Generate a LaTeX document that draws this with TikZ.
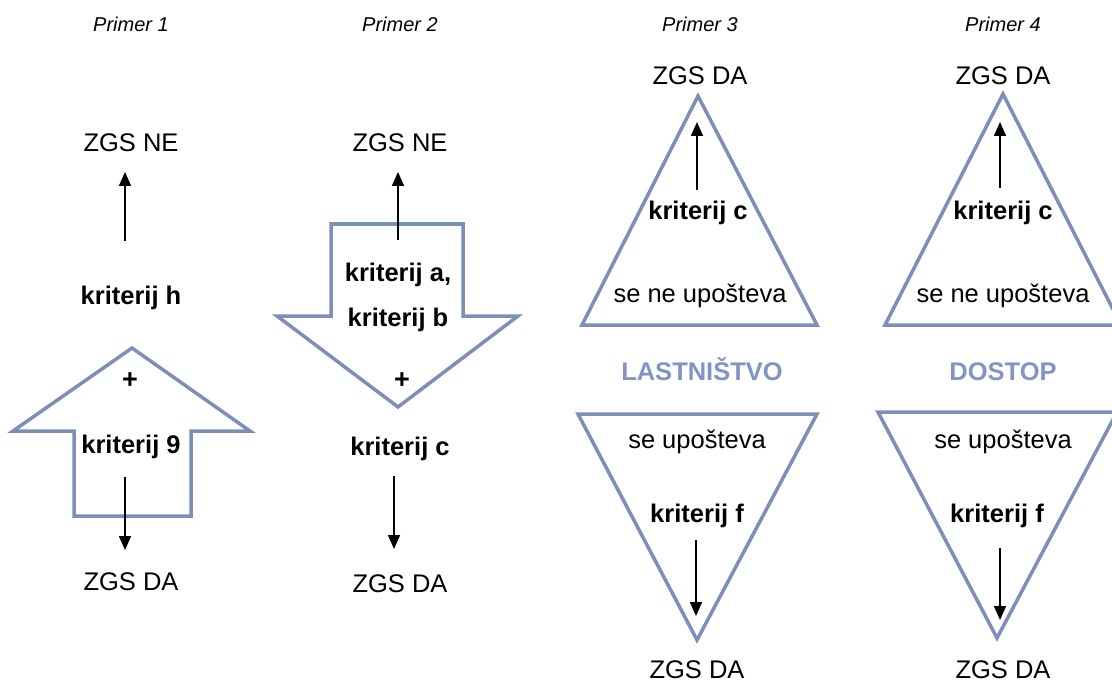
\documentclass[tikz,border=0pt]{standalone}
\usepackage{fontspec}
\setmainfont{Liberation Sans}
\usetikzlibrary{arrows.meta}
\definecolor{outl}{RGB}{125,142,185}
\definecolor{lbl}{RGB}{130,148,196}
\begin{document}
\begin{tikzpicture}[x=1pt,y=-1pt,
 txt/.style={anchor=base,inner sep=0pt,font=\fontsize{25.5}{30}\selectfont},
 btxt/.style={anchor=base,inner sep=0pt,font=\fontsize{25.5}{30}\selectfont\bfseries},
 plus/.style={anchor=base,inner sep=0pt,font=\fontsize{27}{30}\selectfont\bfseries},
 ttl/.style={anchor=base,inner sep=0pt,font=\fontsize{20}{24}\selectfont\itshape},
 hdr/.style={btxt,text=lbl},
 shp/.style={draw=outl,line width=3.5pt,line join=miter},
 arr/.style={line width=1.6pt,-{Triangle[length=14pt,width=12pt]}}]
\useasboundingbox (0,0) rectangle (1112,682);

% ---------- Primer 1 ----------
\node[ttl] (t1) at (131,32) {Primer 1};
\draw[shp] (132,348) -- (250,431) -- (191,431) -- (191,516) -- (74,516) -- (74,431) -- (13,431) -- cycle;
\node[txt] (p1ne) at (131,152) {ZGS NE};
\node[btxt] (p1kh) at (131,304) {kriterij h};
\node[plus] (p1plus) at (130,388) {+};
\node[btxt] (p1k9) at (131,453) {kriterij 9};
\node[txt] (p1da) at (131,590) {ZGS DA};
\coordinate (p1a) at (125,241); \coordinate (p1b) at (125,172);
\draw[arr] (p1a) -- (p1b);
\coordinate (p1c) at (125,477); \coordinate (p1d) at (125,550);
\draw[arr] (p1c) -- (p1d);

% ---------- Primer 2 ----------
\node[ttl] (t2) at (400,32) {Primer 2};
\draw[shp] (331,224) -- (463,224) -- (463,316) -- (518,316) -- (398,407) -- (277,316) -- (331,316) -- cycle;
\node[txt] (p2ne) at (400,152) {ZGS NE};
\node[btxt] (p2ka) at (398,281) {kriterij a,};
\node[btxt] (p2kb) at (398,326) {kriterij b};
\node[plus] (p2plus) at (402,388) {+};
\node[btxt] (p2kc) at (400,455) {kriterij c};
\node[txt] (p2da) at (400,592) {ZGS DA};
\coordinate (p2a) at (398,240); \coordinate (p2b) at (398,172);
\draw[arr] (p2a) -- (p2b);
\coordinate (p2c) at (394,476); \coordinate (p2d) at (394,549);
\draw[arr] (p2c) -- (p2d);

% ---------- Primer 3 ----------
\node[ttl] (t3) at (700,32) {Primer 3};
\node[txt] (p3top) at (700,85) {ZGS DA};
\draw[shp] (698,96) -- (817,325) -- (582,325) -- cycle;
\node[btxt] (p3kc) at (698,219) {kriterij c};
\node[txt] (p3ne) at (700,302) {se ne upošteva};
\node[hdr] (p3h) at (702,380) {LASTNIŠTVO};
\draw[shp] (578,414) -- (817,414) -- (697,640) -- cycle;
\node[txt] (p3up) at (697,448) {se upošteva};
\node[btxt] (p3kf) at (697,522) {kriterij f};
\node[txt] (p3bot) at (697,678) {ZGS DA};
\coordinate (p3a) at (697,190); \coordinate (p3b) at (697,122);
\draw[arr] (p3a) -- (p3b);
\coordinate (p3c) at (696,540); \coordinate (p3d) at (696,616);
\draw[arr] (p3c) -- (p3d);

% ---------- Primer 4 ----------
\node[ttl] (t4) at (1003,32) {Primer 4};
\node[txt] (p4top) at (1003,85) {ZGS DA};
\draw[shp] (1003,94) -- (1121,325) -- (885,325) -- cycle;
\node[btxt] (p4kc) at (1003,219) {kriterij c};
\node[txt] (p4ne) at (1003,302) {se ne upošteva};
\node[hdr] (p4h) at (1003,380) {DOSTOP};
\draw[shp] (878,412) -- (1117,412) -- (997,638) -- cycle;
\node[txt] (p4up) at (1003,448) {se upošteva};
\node[btxt] (p4kf) at (997,522) {kriterij f};
\node[txt] (p4bot) at (1003,678) {ZGS DA};
\coordinate (p4a) at (1000,188); \coordinate (p4b) at (1000,122);
\draw[arr] (p4a) -- (p4b);
\coordinate (p4c) at (1000,548); \coordinate (p4d) at (1000,620);
\draw[arr] (p4c) -- (p4d);
\end{tikzpicture}
\end{document}
